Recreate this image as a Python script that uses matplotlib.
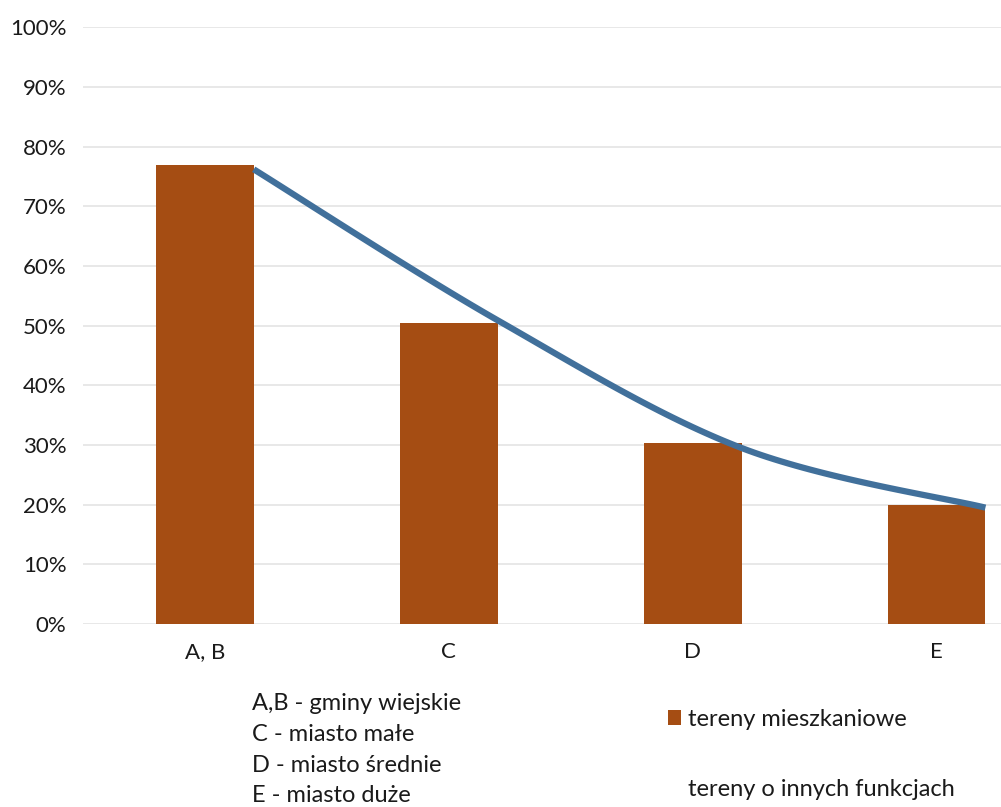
import numpy as np
import matplotlib.pyplot as plt
from matplotlib.patches import Patch
from matplotlib.lines import Line2D

# --- data ---
categories = ["A, B", "C", "D", "E"]
bar_values = [77.0, 50.4, 30.4, 19.9]          # tereny mieszkaniowe
line_values = [76.2, 50.9, 29.5, 19.5]         # tereny o innych funkcjach
y_ticks = [0, 10, 20, 30, 40, 50, 60, 70, 80, 90, 100]
note_lines = ["A,B - gminy wiejskie", "C - miasto małe",
              "D - miasto średnie", "E - miasto duże"]
legend_labels = ["tereny mieszkaniowe", "tereny o innych funkcjach"]

BAR_COLOR = "#A54D13"
LINE_COLOR = "#41709B"
GRID_COLOR = "#E6E6E6"
TEXT_COLOR = "#1A1A1A"
FONT = ["Lato", "DejaVu Sans"]

plt.rcParams['font.family'] = FONT


def catmull_rom(xs, ys, n=40):
    """Smooth curve through points (like Excel's smoothed line)."""
    pts = np.column_stack([xs, ys]).astype(float)
    pts = np.vstack([pts[0], pts, pts[-1]])
    out = []
    for i in range(1, len(pts) - 2):
        p0, p1, p2, p3 = pts[i - 1], pts[i], pts[i + 1], pts[i + 2]
        t = np.linspace(0, 1, n)[:, None]
        seg = 0.5 * ((2 * p1) + (-p0 + p2) * t
                     + (2 * p0 - 5 * p1 + 4 * p2 - p3) * t ** 2
                     + (-p0 + 3 * p1 - 3 * p2 + p3) * t ** 3)
        out.append(seg if i == 1 else seg[1:])
    out = np.vstack(out)
    return out[:, 0], out[:, 1]


W, H = 1001, 807
fig = plt.figure(figsize=(W / 100, H / 100), dpi=100)

# axes extends past the right edge, as in the (cropped) reference
ax_left, ax_right = 83, 1058.6
ax_bottom, ax_top = 624, 27.3
ax = fig.add_axes([ax_left / W, (H - ax_bottom) / H,
                   (ax_right - ax_left) / W, (ax_bottom - ax_top) / H])

x = np.arange(len(categories))
bar_w = 0.4
ax.bar(x, bar_values, width=bar_w, color=BAR_COLOR, zorder=2)

# line series sits on the right edges of the bars
lx, ly = catmull_rom(x + bar_w / 2, line_values)
ax.plot(lx, ly, color=LINE_COLOR, lw=4.5, solid_capstyle='butt', zorder=3)

ax.set_xlim(-0.5, len(categories) - 0.5)
ax.set_ylim(0, 100)
ax.set_yticks(y_ticks)
ax.set_yticklabels([f"{v}%" for v in y_ticks])
ax.set_xticks(x)
ax.set_xticklabels(categories)
ax.tick_params(axis='both', length=0, labelsize=16, colors=TEXT_COLOR)
ax.tick_params(axis='y', pad=12)
ax.tick_params(axis='x', pad=13)
ax.grid(axis='y', color=GRID_COLOR, lw=1.3, zorder=0)
ax.set_axisbelow(True)
for s in ax.spines.values():
    s.set_visible(False)

# category description block
for i, line in enumerate(note_lines):
    fig.text(252 / W, 1 - (704 + 30.6 * i) / H, line, fontsize=17,
             color=TEXT_COLOR, va='center', ha='left')

# legend
handles = [Patch(facecolor=BAR_COLOR, edgecolor='none'),
           Line2D([], [], color='none')]
fig.legend(handles, legend_labels, loc='upper left',
           bbox_to_anchor=(656 / W, 1 - 697 / H), frameon=False,
           fontsize=17, handlelength=0.55, handleheight=0.55,
           handletextpad=0.3, labelspacing=2.09, borderpad=0,
           labelcolor=TEXT_COLOR)

fig.savefig("out.png", dpi=100)
